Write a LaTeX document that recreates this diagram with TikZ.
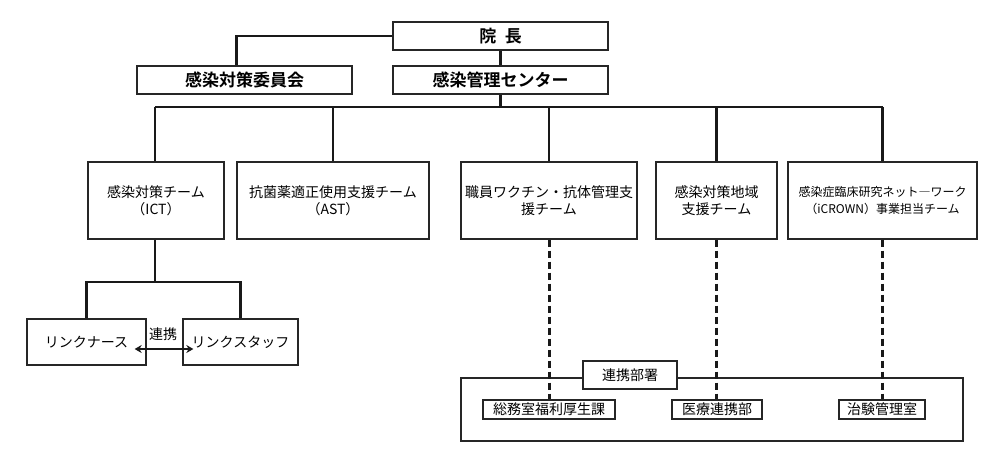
\documentclass[tikz,border=0pt]{standalone}
\usepackage{fontspec}
\setmainfont{Noto Sans CJK JP}[BoldFont={Noto Sans CJK JP Bold}]
\usetikzlibrary{arrows.meta,calc}
\tikzset{
  box/.style={draw=black!85, line width=1.3pt, fill=white, inner sep=0pt, align=center},
  sbox/.style={box, line width=1.6pt, minimum height=19pt},
  conn/.style={line width=2.2pt, black!90},
  dconn/.style={line width=3pt, black!90, dash pattern=on 7pt off 4pt},
  topfont/.style={font=\fontsize{17}{20}\selectfont\bfseries},
  teamfont/.style={font=\fontsize{14}{17}\selectfont},
  smallfont/.style={font=\fontsize{12}{17}\selectfont},
  team/.style={box, teamfont, minimum height=77pt},
}
\begin{document}
\begin{tikzpicture}[x=1pt,y=-1pt]
\useasboundingbox[fill=white] (0,0) rectangle (1000,469);
% top
\node[box, topfont, minimum width=215pt, minimum height=28pt] (inchou) at (500.5,36) {院\hspace{0.5em}長};
\node[box, topfont, minimum width=215pt, minimum height=28pt] (iinkai) at (244.5,80) {感染対策委員会};
\node[box, topfont, minimum width=215pt, minimum height=28pt] (center) at (500.5,80) {感染管理センター};
% teams
\node[team, minimum width=136pt] (ict) at (156,200.5) {感染対策チーム\\（ICT）};
\node[team, minimum width=192pt] (ast) at (333,200.5) {抗菌薬適正使用支援チーム\\（AST）};
\node[team, minimum width=176pt] (shokuin) at (549,200.5) {職員ワクチン・抗体管理支\\援チーム};
\node[team, minimum width=121pt] (chiiki) at (716.5,200.5) {感染対策地域\\支援チーム};
\node[team, smallfont, minimum width=189pt] (crown) at (882.5,200.5) {感染症臨床研究ネット―ワーク\\（iCROWN）事業担当チーム};
% link
\node[box, teamfont, minimum width=119pt, minimum height=46pt] (nurse) at (86.5,342) {リンクナース};
\node[box, teamfont, minimum width=115pt, minimum height=46pt] (staff) at (240.5,342) {リンクスタッフ};
\node[teamfont, inner sep=0pt] (renkeilbl) at (163,334) {連携};
% departments
\node[box, line width=1.2pt, minimum width=502pt, minimum height=63pt] (dept) at (712,409.5) {};
\node[box, teamfont, minimum width=94pt, minimum height=28pt] (depttitle) at (630,375) {連携部署};
\node[sbox, teamfont, minimum width=132pt] (soumu) at (549,409.5) {総務室福利厚生課};
\node[sbox, teamfont, minimum width=90pt] (iryo) at (717,409.5) {医療連携部};
\node[sbox, teamfont, minimum width=86pt] (chiken) at (882,409.5) {治験管理室};
% connectors
\draw[conn] (inchou.west) -| ([xshift=-8pt]iinkai.north);
\draw[conn] (inchou.south) -- (center.south |- iinkai.north);
\coordinate (busL) at (155,107);
\coordinate (busR) at (882.5,107);
\draw[conn] (center.south) -- (center.south |- busL);
\draw[conn] (busL) -- (busR);
\draw[conn] (busL) -- (busL |- ict.north);
\foreach \t in {ast,shokuin,chiiki,crown}{
  \draw[conn] (\t.north) -- (\t.north |- busL);
}
\draw[conn] (busL |- ict.south) -- ++(0,42) coordinate (lj);
\draw[conn] (nurse.north) |- (lj) -| (staff.north);
\draw[conn, {Stealth[length=7pt,width=8pt]}-{Stealth[length=7pt,width=8pt]}] ($(nurse.east)+(-12,7)$) -- ($(staff.west)+(11,7)$);
\draw[dconn] (shokuin.south) -- (shokuin.south |- soumu.north);
\draw[dconn] (chiiki.south) -- (chiiki.south |- iryo.north);
\draw[dconn] (crown.south) -- (crown.south |- chiken.north);
\end{tikzpicture}
\end{document}
